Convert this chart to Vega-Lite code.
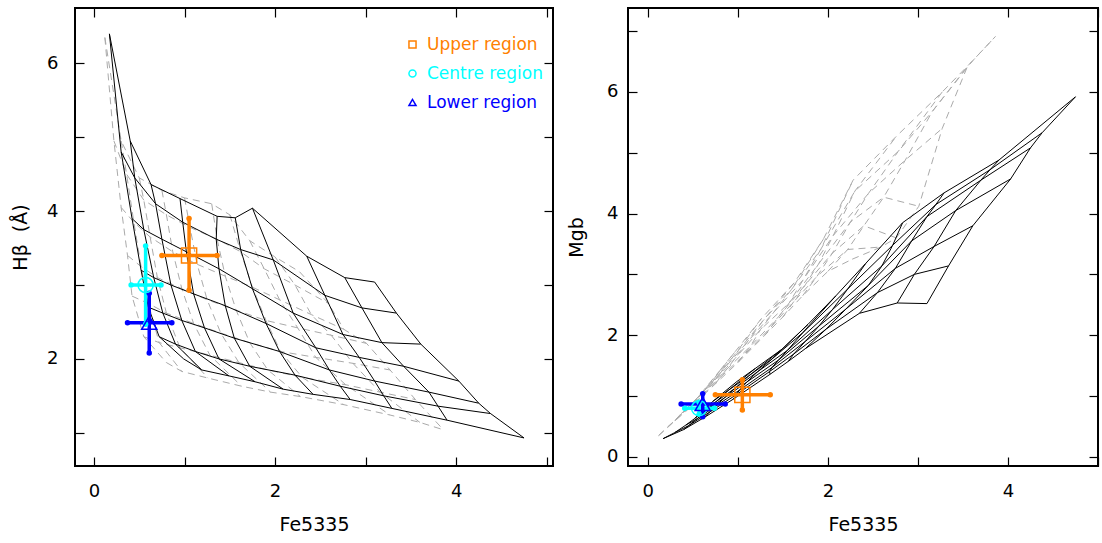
{
"$schema": "https://vega.github.io/schema/vega-lite/v6.json",
"padding": {"left": 10, "top": 6, "right": 4, "bottom": 0},
"spacing": 11,
"config": {
 "view": {"stroke": "#000", "strokeWidth": 2},
 "font": "DejaVu Sans",
 "axis": {"grid": false, "domain": false, "tickColor": "#000", "tickWidth": 1.2, "tickSize": -9, "labelFont": "DejaVu Sans", "labelFontSize": 18, "labelColor": "#000", "titleFont": "DejaVu Sans", "titleFontSize": 19, "titleFontWeight": "normal", "titleColor": "#000", "labelOverlap": false}
},
"datasets": {
 "grid": [
  {"g":"k","z":0,"a":0,"fe":0.17,"hb":6.40,"mgb":0.30},{"g":"k","z":0,"a":1,"fe":0.30,"hb":4.80,"mgb":0.40},{"g":"k","z":0,"a":2,"fe":0.42,"hb":3.90,"mgb":0.52},{"g":"k","z":0,"a":3,"fe":0.52,"hb":3.20,"mgb":0.63},{"g":"k","z":0,"a":4,"fe":0.60,"hb":2.70,"mgb":0.75},{"g":"k","z":0,"a":5,"fe":0.72,"hb":2.30,"mgb":0.91},{"g":"k","z":0,"a":6,"fe":0.99,"hb":2.00,"mgb":1.24},
  {"g":"k","z":1,"a":0,"fe":0.40,"hb":4.95,"mgb":0.45},{"g":"k","z":1,"a":1,"fe":0.45,"hb":4.45,"mgb":0.51},{"g":"k","z":1,"a":2,"fe":0.55,"hb":3.75,"mgb":0.63},{"g":"k","z":1,"a":3,"fe":0.66,"hb":3.10,"mgb":0.78},{"g":"k","z":1,"a":4,"fe":0.76,"hb":2.62,"mgb":0.91},{"g":"k","z":1,"a":5,"fe":0.90,"hb":2.20,"mgb":1.10},{"g":"k","z":1,"a":6,"fe":1.19,"hb":1.85,"mgb":1.45},
  {"g":"k","z":2,"a":0,"fe":0.63,"hb":4.36,"mgb":0.65},{"g":"k","z":2,"a":1,"fe":0.68,"hb":4.10,"mgb":0.73},{"g":"k","z":2,"a":2,"fe":0.75,"hb":3.62,"mgb":0.83},{"g":"k","z":2,"a":3,"fe":0.85,"hb":3.00,"mgb":0.97},{"g":"k","z":2,"a":4,"fe":0.97,"hb":2.52,"mgb":1.13},{"g":"k","z":2,"a":5,"fe":1.12,"hb":2.10,"mgb":1.33},{"g":"k","z":2,"a":6,"fe":1.49,"hb":1.77,"mgb":1.77},
  {"g":"k","z":3,"a":0,"fe":0.95,"hb":4.17,"mgb":0.95},{"g":"k","z":3,"a":1,"fe":0.98,"hb":3.85,"mgb":1.02},{"g":"k","z":3,"a":2,"fe":1.02,"hb":3.45,"mgb":1.10},{"g":"k","z":3,"a":3,"fe":1.10,"hb":2.88,"mgb":1.23},{"g":"k","z":3,"a":4,"fe":1.22,"hb":2.42,"mgb":1.40},{"g":"k","z":3,"a":5,"fe":1.38,"hb":2.00,"mgb":1.61},{"g":"k","z":3,"a":6,"fe":1.78,"hb":1.69,"mgb":2.18},
  {"g":"k","z":4,"a":0,"fe":1.36,"hb":3.93,"mgb":1.36},{"g":"k","z":4,"a":1,"fe":1.35,"hb":3.62,"mgb":1.40},{"g":"k","z":4,"a":2,"fe":1.38,"hb":3.22,"mgb":1.47},{"g":"k","z":4,"a":3,"fe":1.45,"hb":2.72,"mgb":1.59},{"g":"k","z":4,"a":4,"fe":1.55,"hb":2.28,"mgb":1.75},{"g":"k","z":4,"a":5,"fe":1.72,"hb":1.90,"mgb":2.04},{"g":"k","z":4,"a":6,"fe":2.09,"hb":1.59,"mgb":2.65},
  {"g":"k","z":5,"a":0,"fe":1.56,"hb":3.91,"mgb":1.57},{"g":"k","z":5,"a":1,"fe":1.62,"hb":3.48,"mgb":1.69},{"g":"k","z":5,"a":2,"fe":1.75,"hb":2.95,"mgb":1.90},{"g":"k","z":5,"a":3,"fe":1.90,"hb":2.48,"mgb":2.15},{"g":"k","z":5,"a":4,"fe":2.05,"hb":2.10,"mgb":2.42},{"g":"k","z":5,"a":5,"fe":2.22,"hb":1.78,"mgb":2.76},{"g":"k","z":5,"a":6,"fe":2.42,"hb":1.52,"mgb":3.18},
  {"g":"k","z":6,"a":0,"fe":1.75,"hb":4.04,"mgb":1.78},{"g":"k","z":6,"a":1,"fe":1.98,"hb":3.34,"mgb":2.10},{"g":"k","z":6,"a":2,"fe":2.20,"hb":2.62,"mgb":2.43},{"g":"k","z":6,"a":3,"fe":2.45,"hb":2.15,"mgb":2.82},{"g":"k","z":6,"a":4,"fe":2.60,"hb":1.85,"mgb":3.14},{"g":"k","z":6,"a":5,"fe":2.72,"hb":1.63,"mgb":3.48},{"g":"k","z":6,"a":6,"fe":2.83,"hb":1.45,"mgb":3.85},
  {"g":"k","z":7,"a":0,"fe":2.35,"hb":3.39,"mgb":2.36},{"g":"k","z":7,"a":1,"fe":2.55,"hb":2.86,"mgb":2.70},{"g":"k","z":7,"a":2,"fe":2.75,"hb":2.33,"mgb":3.10},{"g":"k","z":7,"a":3,"fe":2.93,"hb":2.02,"mgb":3.55},{"g":"k","z":7,"a":4,"fe":3.10,"hb":1.70,"mgb":3.95},{"g":"k","z":7,"a":5,"fe":3.20,"hb":1.50,"mgb":4.15},{"g":"k","z":7,"a":6,"fe":3.29,"hb":1.33,"mgb":4.34},
  {"g":"k","z":8,"a":0,"fe":2.77,"hb":3.10,"mgb":2.53},{"g":"k","z":8,"a":1,"fe":2.96,"hb":2.69,"mgb":3.00},{"g":"k","z":8,"a":2,"fe":3.18,"hb":2.22,"mgb":3.46},{"g":"k","z":8,"a":3,"fe":3.42,"hb":1.90,"mgb":4.05},{"g":"k","z":8,"a":4,"fe":3.70,"hb":1.55,"mgb":4.55},{"g":"k","z":8,"a":5,"fe":3.80,"hb":1.36,"mgb":4.72},{"g":"k","z":8,"a":6,"fe":3.90,"hb":1.17,"mgb":4.88},
  {"g":"k","z":9,"a":0,"fe":3.10,"hb":3.04,"mgb":2.52},{"g":"k","z":9,"a":1,"fe":3.34,"hb":2.62,"mgb":3.14},{"g":"k","z":9,"a":2,"fe":3.61,"hb":2.20,"mgb":3.80},{"g":"k","z":9,"a":3,"fe":4.03,"hb":1.70,"mgb":4.57},{"g":"k","z":9,"a":4,"fe":4.25,"hb":1.40,"mgb":5.08},{"g":"k","z":9,"a":5,"fe":4.38,"hb":1.26,"mgb":5.33},{"g":"k","z":9,"a":6,"fe":4.75,"hb":0.93,"mgb":5.92},
  {"g":"g","z":0,"a":0,"fe":0.12,"hb":6.35,"mgb":0.35},{"g":"g","z":0,"a":1,"fe":0.22,"hb":4.95,"mgb":0.49},{"g":"g","z":0,"a":2,"fe":0.30,"hb":4.05,"mgb":0.60},{"g":"g","z":0,"a":3,"fe":0.37,"hb":3.40,"mgb":0.71},{"g":"g","z":0,"a":4,"fe":0.42,"hb":2.85,"mgb":0.78},{"g":"g","z":0,"a":5,"fe":0.55,"hb":2.30,"mgb":0.97},{"g":"g","z":0,"a":6,"fe":0.80,"hb":1.95,"mgb":1.42},
  {"g":"g","z":1,"a":0,"fe":0.30,"hb":4.95,"mgb":0.59},{"g":"g","z":1,"a":1,"fe":0.36,"hb":4.50,"mgb":0.68},{"g":"g","z":1,"a":2,"fe":0.44,"hb":3.85,"mgb":0.79},{"g":"g","z":1,"a":3,"fe":0.52,"hb":3.25,"mgb":0.91},{"g":"g","z":1,"a":4,"fe":0.60,"hb":2.75,"mgb":1.04},{"g":"g","z":1,"a":5,"fe":0.72,"hb":2.22,"mgb":1.26},{"g":"g","z":1,"a":6,"fe":0.97,"hb":1.83,"mgb":1.73},
  {"g":"g","z":2,"a":0,"fe":0.50,"hb":4.45,"mgb":0.85},{"g":"g","z":2,"a":1,"fe":0.55,"hb":4.15,"mgb":0.93},{"g":"g","z":2,"a":2,"fe":0.62,"hb":3.65,"mgb":1.04},{"g":"g","z":2,"a":3,"fe":0.70,"hb":3.10,"mgb":1.19},{"g":"g","z":2,"a":4,"fe":0.80,"hb":2.62,"mgb":1.37},{"g":"g","z":2,"a":5,"fe":0.95,"hb":2.15,"mgb":1.65},{"g":"g","z":2,"a":6,"fe":1.26,"hb":1.74,"mgb":2.27},
  {"g":"g","z":3,"a":0,"fe":0.75,"hb":4.28,"mgb":1.20},{"g":"g","z":3,"a":1,"fe":0.80,"hb":3.95,"mgb":1.30},{"g":"g","z":3,"a":2,"fe":0.87,"hb":3.45,"mgb":1.43},{"g":"g","z":3,"a":3,"fe":0.97,"hb":2.95,"mgb":1.62},{"g":"g","z":3,"a":4,"fe":1.10,"hb":2.48,"mgb":1.88},{"g":"g","z":3,"a":5,"fe":1.28,"hb":2.05,"mgb":2.24},{"g":"g","z":3,"a":6,"fe":1.63,"hb":1.63,"mgb":2.87},
  {"g":"g","z":4,"a":0,"fe":1.00,"hb":4.18,"mgb":1.55},{"g":"g","z":4,"a":1,"fe":1.06,"hb":3.78,"mgb":1.66},{"g":"g","z":4,"a":2,"fe":1.14,"hb":3.28,"mgb":1.82},{"g":"g","z":4,"a":3,"fe":1.25,"hb":2.80,"mgb":2.09},{"g":"g","z":4,"a":4,"fe":1.40,"hb":2.35,"mgb":2.38},{"g":"g","z":4,"a":5,"fe":1.60,"hb":1.95,"mgb":2.76},{"g":"g","z":4,"a":6,"fe":1.95,"hb":1.55,"mgb":3.58},
  {"g":"g","z":5,"a":0,"fe":1.30,"hb":4.10,"mgb":2.00},{"g":"g","z":5,"a":1,"fe":1.36,"hb":3.62,"mgb":2.12},{"g":"g","z":5,"a":2,"fe":1.45,"hb":3.12,"mgb":2.30},{"g":"g","z":5,"a":3,"fe":1.57,"hb":2.66,"mgb":2.53},{"g":"g","z":5,"a":4,"fe":1.72,"hb":2.22,"mgb":2.90},{"g":"g","z":5,"a":5,"fe":1.92,"hb":1.85,"mgb":3.41},{"g":"g","z":5,"a":6,"fe":2.28,"hb":1.49,"mgb":4.55},
  {"g":"g","z":6,"a":0,"fe":1.50,"hb":3.95,"mgb":2.30},{"g":"g","z":6,"a":1,"fe":1.62,"hb":3.45,"mgb":2.55},{"g":"g","z":6,"a":2,"fe":1.75,"hb":2.97,"mgb":2.83},{"g":"g","z":6,"a":3,"fe":1.90,"hb":2.52,"mgb":3.18},{"g":"g","z":6,"a":4,"fe":2.06,"hb":2.10,"mgb":3.64},{"g":"g","z":6,"a":5,"fe":2.30,"hb":1.75,"mgb":4.37},{"g":"g","z":6,"a":6,"fe":2.76,"hb":1.38,"mgb":5.27},
  {"g":"g","z":7,"a":0,"fe":1.72,"hb":3.60,"mgb":2.65},{"g":"g","z":7,"a":1,"fe":1.88,"hb":3.22,"mgb":2.97},{"g":"g","z":7,"a":2,"fe":2.05,"hb":2.80,"mgb":3.35},{"g":"g","z":7,"a":3,"fe":2.25,"hb":2.42,"mgb":3.86},{"g":"g","z":7,"a":4,"fe":2.45,"hb":2.02,"mgb":4.33},{"g":"g","z":7,"a":5,"fe":2.78,"hb":1.65,"mgb":5.02},{"g":"g","z":7,"a":6,"fe":3.27,"hb":1.24,"mgb":6.00},
  {"g":"g","z":8,"a":0,"fe":2.00,"hb":3.38,"mgb":3.05},{"g":"g","z":8,"a":1,"fe":2.22,"hb":3.00,"mgb":3.41},{"g":"g","z":8,"a":2,"fe":2.40,"hb":2.60,"mgb":3.80},{"g":"g","z":8,"a":3,"fe":2.62,"hb":2.32,"mgb":4.27},{"g":"g","z":8,"a":4,"fe":2.86,"hb":1.94,"mgb":4.88},{"g":"g","z":8,"a":5,"fe":3.16,"hb":1.55,"mgb":5.68},{"g":"g","z":8,"a":6,"fe":3.60,"hb":1.14,"mgb":6.50},
  {"g":"g","z":9,"a":0,"fe":2.27,"hb":3.18,"mgb":3.25},{"g":"g","z":9,"a":1,"fe":2.59,"hb":2.75,"mgb":3.45},{"g":"g","z":9,"a":2,"fe":2.76,"hb":2.40,"mgb":3.60},{"g":"g","z":9,"a":3,"fe":3.01,"hb":2.21,"mgb":4.12},{"g":"g","z":9,"a":4,"fe":3.27,"hb":1.85,"mgb":5.40},{"g":"g","z":9,"a":5,"fe":3.55,"hb":1.45,"mgb":6.42},{"g":"g","z":9,"a":6,"fe":3.86,"hb":1.04,"mgb":6.91}
 ],
 "pts": [
  {"region":"Upper region","fe":1.05,"fe_lo":0.75,"fe_hi":1.36,"hb":3.40,"hb_lo":2.93,"hb_hi":3.90,"mgb":1.02,"mgb_lo":0.77,"mgb_hi":1.27},
  {"region":"Centre region","fe":0.57,"fe_lo":0.41,"fe_hi":0.74,"hb":3.00,"hb_lo":2.47,"hb_hi":3.53,"mgb":0.80,"mgb_lo":0.70,"mgb_hi":0.90},
  {"region":"Lower region","fe":0.61,"fe_lo":0.37,"fe_hi":0.86,"hb":2.49,"hb_lo":2.08,"hb_hi":2.89,"mgb":0.87,"mgb_lo":0.66,"mgb_hi":1.04}
 ]
},
"resolve": {"scale": {"color": "independent", "shape": "independent", "fill": "independent", "stroke": "independent"}, "legend": {"color": "independent", "shape": "independent"}},
"hconcat": [
 {
  "width": 478, "height": 458,
  "resolve": {"axis": {"x": "independent", "y": "independent"}},
  "layer": [
   {"data": {"name": "grid"}, "transform": [{"filter": "datum.g == 'g'"}],
    "mark": {"type": "line", "stroke": "#aaaaaa", "strokeWidth": 1, "strokeDash": [7, 5], "clip": true},
    "encoding": {
     "x": {"field": "fe", "type": "quantitative", "scale": {"domain": [-0.21, 5.07], "nice": false, "zero": false},
           "axis": {"orient": "bottom", "values": [0,1,2,3,4,5], "labelExpr": "datum.value % 2 == 0 ? datum.label : ''", "labelPadding": 25, "title": "Fe5335", "titlePadding": 15}},
     "y": {"field": "hb", "type": "quantitative", "scale": {"domain": [0.55, 6.75], "nice": false, "zero": false},
           "axis": {"orient": "left", "values": [1,2,3,4,5,6], "labelExpr": "datum.value % 2 == 0 ? datum.label : ''", "labelPadding": 26, "title": "Hβ\u00a0\u00a0(Å)", "titlePadding": 16}},
     "detail": {"field": "a"}, "order": {"field": "z"}}},
   {"data": {"name": "grid"}, "transform": [{"filter": "datum.g == 'g'"}],
    "mark": {"type": "line", "stroke": "#aaaaaa", "strokeWidth": 1, "strokeDash": [7, 5], "clip": true},
    "encoding": {
     "x": {"field": "fe", "type": "quantitative", "axis": {"orient": "top", "values": [0,1,2,3,4,5], "labels": false, "title": null}},
     "y": {"field": "hb", "type": "quantitative", "axis": {"orient": "right", "values": [1,2,3,4,5,6], "labels": false, "title": null}},
     "detail": {"field": "z"}, "order": {"field": "a"}}},
   {"data": {"name": "grid"}, "transform": [{"filter": "datum.g == 'k'"}],
    "mark": {"type": "line", "stroke": "#000000", "strokeWidth": 1, "clip": true},
    "encoding": {
     "x": {"field": "fe", "type": "quantitative", "axis": null},
     "y": {"field": "hb", "type": "quantitative", "axis": null},
     "detail": {"field": "a"}, "order": {"field": "z"}}},
   {"data": {"name": "grid"}, "transform": [{"filter": "datum.g == 'k'"}],
    "mark": {"type": "line", "stroke": "#000000", "strokeWidth": 1, "clip": true},
    "encoding": {
     "x": {"field": "fe", "type": "quantitative", "axis": null},
     "y": {"field": "hb", "type": "quantitative", "axis": null},
     "detail": {"field": "z"}, "order": {"field": "a"}}},
   {"data": {"name": "pts"}, "mark": {"type": "rule", "strokeWidth": 3.5},
    "encoding": {
     "x": {"field": "fe_lo", "type": "quantitative", "axis": null}, "x2": {"field": "fe_hi"},
     "y": {"field": "hb", "type": "quantitative", "axis": null},
     "stroke": {"field": "region", "type": "nominal", "scale": {"domain": ["Lower region", "Centre region", "Upper region"], "range": ["#0000ff", "#00ffff", "#ff8000"]}, "legend": null}}},
   {"data": {"name": "pts"}, "mark": {"type": "rule", "strokeWidth": 3.5},
    "encoding": {
     "x": {"field": "fe", "type": "quantitative", "axis": null},
     "y": {"field": "hb_lo", "type": "quantitative", "axis": null}, "y2": {"field": "hb_hi"},
     "stroke": {"field": "region", "type": "nominal", "legend": null}}},
   {"data": {"name": "pts"}, "mark": {"type": "point", "filled": true, "size": 30, "opacity": 1},
    "encoding": {"x": {"field": "fe_lo", "type": "quantitative", "axis": null}, "y": {"field": "hb", "type": "quantitative", "axis": null},
     "fill": {"field": "region", "type": "nominal", "scale": {"domain": ["Centre region", "Lower region", "Upper region"], "range": ["#00ffff", "#0000ff", "#ff8000"]}, "legend": null}}},
   {"data": {"name": "pts"}, "mark": {"type": "point", "filled": true, "size": 30, "opacity": 1},
    "encoding": {"x": {"field": "fe_hi", "type": "quantitative", "axis": null}, "y": {"field": "hb", "type": "quantitative", "axis": null}, "fill": {"field": "region", "type": "nominal", "legend": null}}},
   {"data": {"name": "pts"}, "mark": {"type": "point", "filled": true, "size": 30, "opacity": 1},
    "encoding": {"x": {"field": "fe", "type": "quantitative", "axis": null}, "y": {"field": "hb_lo", "type": "quantitative", "axis": null}, "fill": {"field": "region", "type": "nominal", "legend": null}}},
   {"data": {"name": "pts"}, "mark": {"type": "point", "filled": true, "size": 30, "opacity": 1},
    "encoding": {"x": {"field": "fe", "type": "quantitative", "axis": null}, "y": {"field": "hb_hi", "type": "quantitative", "axis": null}, "fill": {"field": "region", "type": "nominal", "legend": null}}},
   {"data": {"name": "pts"}, "mark": {"type": "point", "filled": false, "size": 230, "strokeWidth": 1.5, "opacity": 1},
    "encoding": {
     "x": {"field": "fe", "type": "quantitative", "axis": null},
     "y": {"field": "hb", "type": "quantitative", "axis": null},
     "color": {"field": "region", "type": "nominal", "sort": null,
               "scale": {"domain": ["Upper region", "Centre region", "Lower region"], "range": ["#ff8000", "#00ffff", "#0000ff"]},
               "legend": {"title": null, "orient": "none", "legendX": 329, "legendY": 28, "padding": 0, "labelFont": "DejaVu Sans", "labelFontSize": 17, "symbolSize": 50, "symbolStrokeWidth": 1.5, "rowPadding": 11, "labelOffset": 6,
                          "labelColor": {"expr": "datum.value == 'Upper region' ? '#ff8000' : datum.value == 'Centre region' ? '#00ffff' : '#0000ff'"}}},
     "shape": {"field": "region", "type": "nominal", "sort": null,
               "scale": {"domain": ["Upper region", "Centre region", "Lower region"], "range": ["square", "circle", "triangle-up"]},
               "legend": {"title": null, "orient": "none", "legendX": 329, "legendY": 28, "padding": 0, "labelFont": "DejaVu Sans", "labelFontSize": 17, "symbolSize": 50, "symbolStrokeWidth": 1.5, "rowPadding": 11, "labelOffset": 6,
                          "labelColor": {"expr": "datum.value == 'Upper region' ? '#ff8000' : datum.value == 'Centre region' ? '#00ffff' : '#0000ff'"}}}}}
  ]
 },
 {
  "width": 470, "height": 458,
  "resolve": {"axis": {"x": "independent", "y": "independent"}},
  "layer": [
   {"data": {"name": "grid"}, "transform": [{"filter": "datum.g == 'g'"}],
    "mark": {"type": "line", "stroke": "#aaaaaa", "strokeWidth": 1, "strokeDash": [7, 5], "clip": true},
    "encoding": {
     "x": {"field": "fe", "type": "quantitative", "scale": {"domain": [-0.22, 5.0], "nice": false, "zero": false},
           "axis": {"orient": "bottom", "values": [0,1,2,3,4,5], "labelExpr": "datum.value % 2 == 0 ? datum.label : ''", "labelPadding": 25, "title": "Fe5335", "titlePadding": 15}},
     "y": {"field": "mgb", "type": "quantitative", "scale": {"domain": [-0.15, 7.38], "nice": false, "zero": false},
           "axis": {"orient": "left", "values": [0,1,2,3,4,5,6,7], "labelExpr": "datum.value % 2 == 0 ? datum.label : ''", "labelPadding": 19, "title": "Mgb", "titlePadding": 20}},
     "detail": {"field": "a"}, "order": {"field": "z"}}},
   {"data": {"name": "grid"}, "transform": [{"filter": "datum.g == 'g'"}],
    "mark": {"type": "line", "stroke": "#aaaaaa", "strokeWidth": 1, "strokeDash": [7, 5], "clip": true},
    "encoding": {
     "x": {"field": "fe", "type": "quantitative", "axis": {"orient": "top", "values": [0,1,2,3,4,5], "labels": false, "title": null}},
     "y": {"field": "mgb", "type": "quantitative", "axis": {"orient": "right", "values": [0,1,2,3,4,5,6,7], "labels": false, "title": null}},
     "detail": {"field": "z"}, "order": {"field": "a"}}},
   {"data": {"name": "grid"}, "transform": [{"filter": "datum.g == 'k'"}],
    "mark": {"type": "line", "stroke": "#000000", "strokeWidth": 1, "clip": true},
    "encoding": {
     "x": {"field": "fe", "type": "quantitative", "axis": null},
     "y": {"field": "mgb", "type": "quantitative", "axis": null},
     "detail": {"field": "a"}, "order": {"field": "z"}}},
   {"data": {"name": "grid"}, "transform": [{"filter": "datum.g == 'k'"}],
    "mark": {"type": "line", "stroke": "#000000", "strokeWidth": 1, "clip": true},
    "encoding": {
     "x": {"field": "fe", "type": "quantitative", "axis": null},
     "y": {"field": "mgb", "type": "quantitative", "axis": null},
     "detail": {"field": "z"}, "order": {"field": "a"}}},
   {"data": {"name": "pts"}, "mark": {"type": "rule", "strokeWidth": 3.5},
    "encoding": {
     "x": {"field": "fe_lo", "type": "quantitative", "axis": null}, "x2": {"field": "fe_hi"},
     "y": {"field": "mgb", "type": "quantitative", "axis": null},
     "color": {"field": "region", "type": "nominal", "legend": null}}},
   {"data": {"name": "pts"}, "mark": {"type": "rule", "strokeWidth": 3.5},
    "encoding": {
     "x": {"field": "fe", "type": "quantitative", "axis": null},
     "y": {"field": "mgb_lo", "type": "quantitative", "axis": null}, "y2": {"field": "mgb_hi"},
     "color": {"field": "region", "type": "nominal", "legend": null}}},
   {"data": {"name": "pts"}, "mark": {"type": "point", "filled": true, "size": 30, "opacity": 1},
    "encoding": {"x": {"field": "fe_lo", "type": "quantitative", "axis": null}, "y": {"field": "mgb", "type": "quantitative", "axis": null}, "color": {"field": "region", "type": "nominal", "legend": null}}},
   {"data": {"name": "pts"}, "mark": {"type": "point", "filled": true, "size": 30, "opacity": 1},
    "encoding": {"x": {"field": "fe_hi", "type": "quantitative", "axis": null}, "y": {"field": "mgb", "type": "quantitative", "axis": null}, "color": {"field": "region", "type": "nominal", "legend": null}}},
   {"data": {"name": "pts"}, "mark": {"type": "point", "filled": true, "size": 30, "opacity": 1},
    "encoding": {"x": {"field": "fe", "type": "quantitative", "axis": null}, "y": {"field": "mgb_lo", "type": "quantitative", "axis": null}, "color": {"field": "region", "type": "nominal", "legend": null}}},
   {"data": {"name": "pts"}, "mark": {"type": "point", "filled": true, "size": 30, "opacity": 1},
    "encoding": {"x": {"field": "fe", "type": "quantitative", "axis": null}, "y": {"field": "mgb_hi", "type": "quantitative", "axis": null}, "color": {"field": "region", "type": "nominal", "legend": null}}},
   {"data": {"name": "pts"}, "mark": {"type": "point", "filled": false, "size": 230, "strokeWidth": 1.5, "opacity": 1},
    "encoding": {
     "x": {"field": "fe", "type": "quantitative", "axis": null},
     "y": {"field": "mgb", "type": "quantitative", "axis": null},
     "color": {"field": "region", "type": "nominal", "sort": null,
               "scale": {"domain": ["Upper region", "Centre region", "Lower region"], "range": ["#ff8000", "#00ffff", "#0000ff"]}, "legend": null},
     "shape": {"field": "region", "type": "nominal", "sort": null,
               "scale": {"domain": ["Upper region", "Centre region", "Lower region"], "range": ["square", "circle", "triangle-up"]}, "legend": null}}}
  ]
 }
]
}
